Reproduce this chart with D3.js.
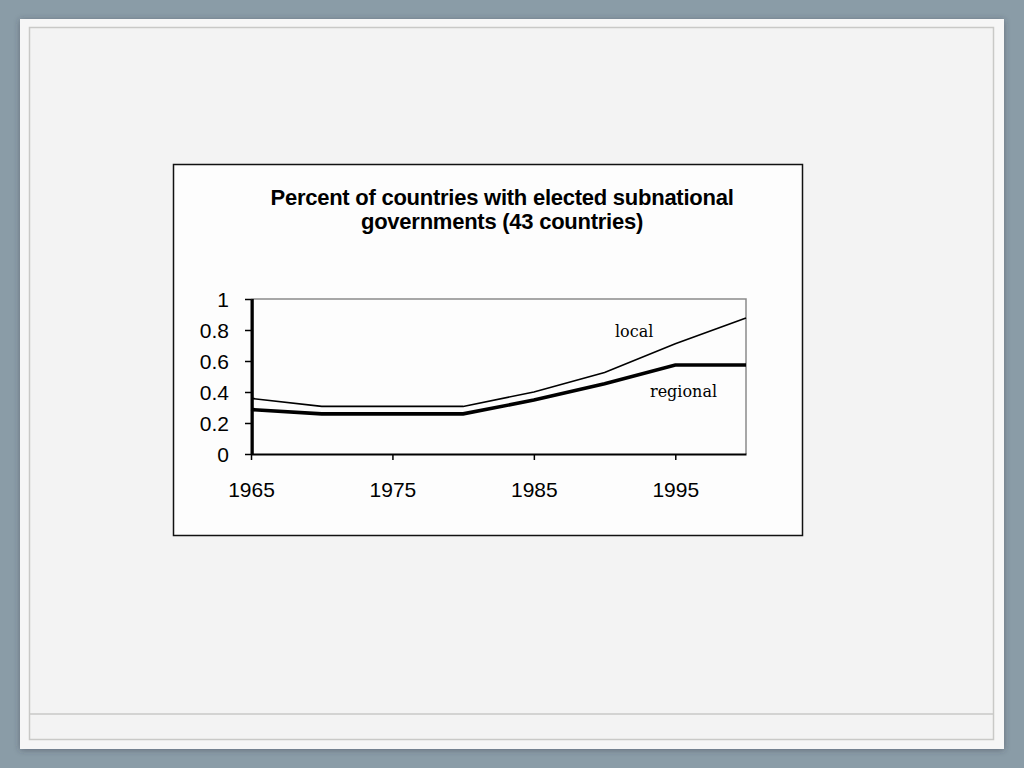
<!DOCTYPE html>
<html>
<head>
<meta charset="utf-8">
<script src="https://cdn.jsdelivr.net/npm/d3@7"></script>
<style>
  html, body { margin: 0; padding: 0; background: #8a9ca7; }
  svg { display: block; }
</style>
</head>
<body>
<svg id="slide" width="1024" height="768"></svg>
<script>
// values (share of the 43 countries)
var years = [1965, 1970, 1975, 1980, 1985, 1990, 1995, 2000];
var local = [0.359, 0.307, 0.307, 0.307, 0.40, 0.526, 0.711, 0.878];
var regional = [0.287, 0.259, 0.259, 0.259, 0.348, 0.454, 0.574, 0.574];
var spike = [[1965, 0], [1965, 1]];   // stray vertical line at the start
var xTicks = [1965, 1975, 1985, 1995];
var yTicks = [0, 0.2, 0.4, 0.6, 0.8, 1];
var titleLines = ["Percent of countries with elected subnational",
                  "governments (43 countries)"];

var svg = d3.select("#slide");

// slide frame
var defs = svg.append("defs");
var f = defs.append("filter").attr("id", "shadow")
    .attr("x", "-5%").attr("y", "-5%").attr("width", "110%").attr("height", "110%");
f.append("feDropShadow").attr("dx", 0).attr("dy", 1).attr("stdDeviation", 3)
    .attr("flood-color", "#334").attr("flood-opacity", 0.45);

svg.append("rect").attr("x", 20).attr("y", 19).attr("width", 984).attr("height", 730)
    .attr("fill", "#f6f6f6").attr("filter", "url(#shadow)");
svg.append("rect").attr("x", 29.5).attr("y", 27.5).attr("width", 964).attr("height", 712)
    .attr("fill", "#f3f3f3").attr("stroke", "#c9c9c7").attr("stroke-width", 1.5);
svg.append("line").attr("x1", 29.5).attr("x2", 993.5).attr("y1", 714).attr("y2", 714)
    .attr("stroke", "#c9c9c7").attr("stroke-width", 1.5);

// chart box
svg.append("rect").attr("x", 173.5).attr("y", 164.5).attr("width", 629).attr("height", 371)
    .attr("fill", "#fdfdfd").attr("stroke", "#111").attr("stroke-width", 1.5);

svg.append("text")
    .attr("x", 502).attr("y", 205)
    .attr("text-anchor", "middle")
    .style("font-family", "Liberation Sans, Arial, sans-serif")
    .style("font-weight", "bold")
    .style("font-size", "22px")
    .style("letter-spacing", "-0.25px")
    .selectAll("tspan")
    .data(titleLines)
    .enter().append("tspan")
    .attr("x", 502)
    .attr("dy", (d, i) => i ? 24 : 0)
    .text(d => d);

var margin = {left: 251, top: 299, right: 746, bottom: 454};
var x = d3.scaleLinear().domain([1965, 2000]).range([margin.left, margin.right]);
var y = d3.scaleLinear().domain([0, 1]).range([margin.bottom, margin.top]);

var g = svg.append("g");

// plot area frame (grey top and right)
g.append("path")
    .attr("d", "M" + x(1965) + "," + y(1) + "H" + x(2000) + "V" + y(0))
    .attr("fill", "none").attr("stroke", "#8a8a8a").attr("stroke-width", 1.5);

var line = d3.line()
    .x((d, i) => x(years[i]))
    .y(d => y(d));

g.append("path").datum(local)
    .attr("d", line)
    .attr("fill", "none").attr("stroke", "#000").attr("stroke-width", 1.6);

g.append("path").datum(regional)
    .attr("d", line)
    .attr("fill", "none").attr("stroke", "#000").attr("stroke-width", 3.6);

g.append("path").datum(spike)
    .attr("d", d3.line().x(d => x(d[0]) + 1.5).y(d => y(d[1])))
    .attr("fill", "none").attr("stroke", "#000").attr("stroke-width", 2.6);

var xAxis = d3.axisBottom(x).tickValues(xTicks).tickFormat(d3.format("d"))
    .tickSize(6).tickSizeOuter(0);
var yAxis = d3.axisLeft(y).tickValues(yTicks).tickFormat(d => d)
    .tickSize(6).tickSizeOuter(0);

var gx = g.append("g").attr("transform", "translate(0," + y(0) + ")").call(xAxis);
var gy = g.append("g").attr("transform", "translate(" + x(1965) + ",0)").call(yAxis);

[gx, gy].forEach(function(a) {
    a.select(".domain").attr("stroke", "#000").attr("stroke-width", 2);
    a.selectAll(".tick line").attr("stroke", "#000").attr("stroke-width", 1.5);
    a.selectAll("text")
        .attr("fill", "#000")
        .style("font-family", "Liberation Sans, Arial, sans-serif")
        .style("font-size", "21px");
});
gx.selectAll(".tick text").attr("y", 43).attr("dy", 0);
gy.selectAll(".tick text").attr("x", -22).attr("dy", "0.36em");

// series labels
var serif = "'DejaVu Serif', serif";
g.append("text").attr("x", 615).attr("y", 337)
    .style("font-family", serif).style("font-size", "16px").text("local");
g.append("text").attr("x", 650).attr("y", 397)
    .style("font-family", serif).style("font-size", "16px").text("regional");
</script>
</body>
</html>
